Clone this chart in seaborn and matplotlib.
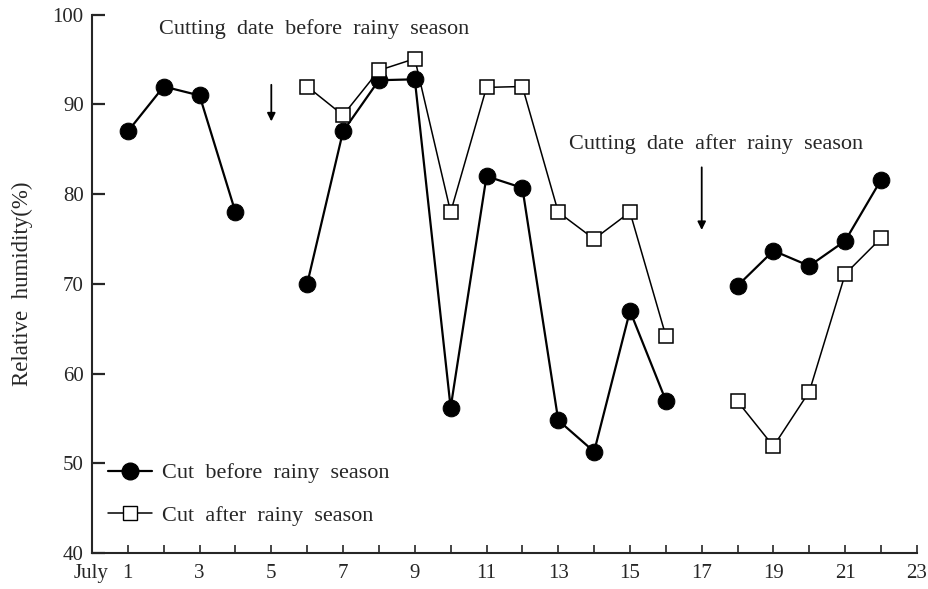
import numpy as np
import pandas as pd
import matplotlib
matplotlib.use("Agg")
import matplotlib.pyplot as plt
from matplotlib.lines import Line2D
import seaborn as sns

# --- podaci ocitani sa grafika ---
days_before = [1, 2, 3, 4, 6, 7, 8, 9, 10, 11, 12, 13, 14, 15, 16, 18, 19, 20, 21, 22]
rh_before = [87, 92, 91, 78, 70, 87, 92.7, 92.8, 56.2, 82, 80.7, 54.8, 51.3, 67, 57,
             69.8, 73.7, 72, 74.8, 81.6]
seg_before = [0, 0, 0, 0, 1, 1, 1, 1, 1, 1, 1, 1, 1, 1, 1, 2, 2, 2, 2, 2]

days_after = [6, 7, 8, 9, 10, 11, 12, 13, 14, 15, 16, 18, 19, 20, 21, 22]
rh_after = [92, 88.8, 93.8, 95.1, 78, 91.9, 92, 78, 75, 78, 64.2, 56.9, 51.9, 58, 71.1, 75.1]
seg_after = [1, 1, 1, 1, 1, 1, 1, 1, 1, 1, 1, 2, 2, 2, 2, 2]

odd_days = list(range(1, 24, 2))
all_days = list(range(1, 24))
y_ticks = [40, 50, 60, 70, 80, 90, 100]

label_before = "Cut  before  rainy  season"
label_after = "Cut  after  rainy  season"

df_before = pd.DataFrame({"day": days_before, "rh": rh_before, "seg": seg_before})
df_after = pd.DataFrame({"day": days_after, "rh": rh_after, "seg": seg_after})

sns.set_style("ticks")
plt.rcParams["font.family"] = ["Liberation Serif", "DejaVu Serif"]
plt.rcParams["font.size"] = 15

fig = plt.figure(figsize=(9.29, 5.89), dpi=100)
ax = fig.add_axes([0.099, 0.061, 0.888, 0.914])

sns.lineplot(data=df_before, x="day", y="rh", units="seg", estimator=None,
             color="black", linewidth=1.6, marker="o", markersize=12,
             markerfacecolor="black", markeredgecolor="black", ax=ax, zorder=3)
sns.lineplot(data=df_after, x="day", y="rh", units="seg", estimator=None,
             color="black", linewidth=1.1, marker="s", markersize=10,
             markerfacecolor="white", markeredgecolor="black", markeredgewidth=1.1,
             ax=ax, zorder=4)

ax.set_xlim(0, 23)
ax.set_ylim(40, 100)
ax.set_xticks(odd_days)
ax.set_xticklabels([str(d) for d in odd_days])
ax.set_xticks(all_days, minor=True)
ax.set_yticks(y_ticks)
ax.tick_params(axis="x", which="both", direction="in", length=6, width=1.2, pad=8,
               labelsize=15)
ax.tick_params(axis="y", direction="in", length=9, width=1.6, pad=6, labelsize=15)
ax.set_xlabel("")
ax.set_ylabel("Relative  humidity(%)", labelpad=14, fontsize=16.5)
sns.despine(ax=ax)
for s in ["left", "bottom"]:
    ax.spines[s].set_linewidth(1.5)

ax.annotate("July", xy=(1, 0), xycoords=("data", "axes fraction"),
            xytext=(-14, -8), textcoords="offset points", ha="right", va="top",
            fontsize=15)

# strelice i natpisi
ax.text(6.2, 98.4, "Cutting  date  before  rainy  season", ha="center", va="center",
        fontsize=16)
ax.annotate("", xy=(5, 87.8), xytext=(5, 92.5),
            arrowprops=dict(arrowstyle="-|>", color="black", lw=1.3, mutation_scale=12))
ax.text(17.4, 85.6, "Cutting  date  after  rainy  season", ha="center", va="center",
        fontsize=16)
ax.annotate("", xy=(17, 75.7), xytext=(17, 83.3),
            arrowprops=dict(arrowstyle="-|>", color="black", lw=1.3, mutation_scale=12))

handles = [
    Line2D([], [], color="black", linewidth=1.6, marker="o", markersize=12),
    Line2D([], [], color="black", linewidth=1.1, marker="s", markersize=10,
           markerfacecolor="white", markeredgecolor="black"),
]
ax.legend(handles, [label_before, label_after], loc="lower left",
          bbox_to_anchor=(-0.005, 0.013), frameon=False, handlelength=2.0,
          handletextpad=0.45, labelspacing=1.0, fontsize=16)

plt.savefig("out.png", dpi=100)
plt.close()
